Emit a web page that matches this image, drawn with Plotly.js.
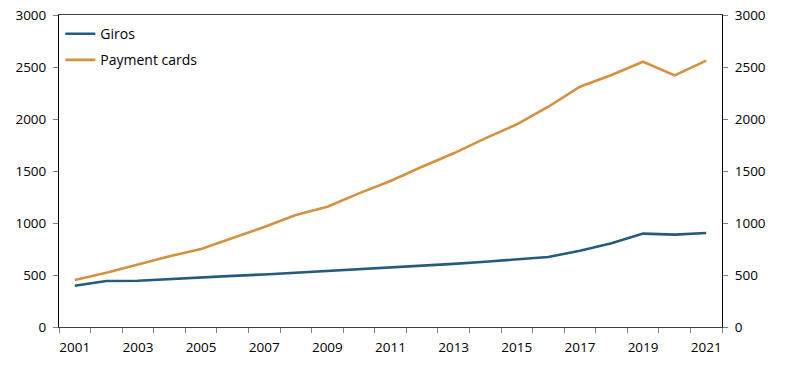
<!DOCTYPE html>
<html>
<head>
<meta charset="utf-8">
<script src="https://cdn.plot.ly/plotly-3.0.1.min.js"></script>
<style>html,body{margin:0;padding:0;background:#fff}#chart{width:797px;height:365px}</style>
</head>
<body>
<div id="chart"></div>
<script>
const years = [2001,2002,2003,2004,2005,2006,2007,2008,2009,2010,2011,2012,2013,2014,2015,2016,2017,2018,2019,2020,2021];
const giros = [397,442,445,461,481,492,505,521,538,555,572,590,607,628,651,673,734,805,898,888,904];
const paymentCards = [452,522,600,680,750,856,962,1077,1157,1285,1404,1541,1670,1814,1949,2118,2311,2423,2551,2420,2561];
const xTickLabels = ['2001','2003','2005','2007','2009','2011','2013','2015','2017','2019','2021'];
const yTicks = [0,500,1000,1500,2000,2500,3000];

const xTickVals = xTickLabels.map(Number);
const catEdges = years.map(y => y - 0.5).concat([years[years.length-1] + 0.5]);

const fontFam = '"Open Sans", "Noto Sans", sans-serif';
const traces = [
  {x: years, y: giros, name: 'Giros', type: 'scatter', mode: 'lines',
   line: {color: '#245b7f', width: 2.6}, legendgroup: 'a'},
  {x: years, y: paymentCards, name: 'Payment cards', type: 'scatter', mode: 'lines',
   xaxis: 'x', yaxis: 'y2',
   line: {color: '#d4913f', width: 2.6}, legendgroup: 'b'}
];

const layout = {
  width: 797, height: 365,
  margin: {l: 59, r: 75, t: 15, b: 38},
  paper_bgcolor: '#fff', plot_bgcolor: '#fff',
  font: {family: fontFam, size: 13.5, color: '#000'},
  showlegend: true,
  legend: {x: 0.002, y: 0.99, xanchor: 'left', yanchor: 'top', bgcolor: 'rgba(0,0,0,0)',
           font: {family: fontFam, size: 14, color: '#000'}, tracegroupgap: 5, itemwidth: 30},
  xaxis: {
    range: [catEdges[0], catEdges[catEdges.length-1]],
    tickmode: 'array', tickvals: xTickVals, ticktext: xTickLabels,
    ticks: 'outside', ticklen: 0, tickcolor: 'rgba(0,0,0,0)', ticklabelstandoff: 8,
    minor: {tickmode: 'array', tickvals: catEdges, ticks: 'outside', ticklen: 5, tickcolor: '#7f7f7f', tickwidth: 1},
    showline: true, linecolor: '#404040', linewidth: 1, mirror: true,
    showgrid: false, zeroline: false, fixedrange: true
  },
  yaxis: {
    range: [0, 3000], tickmode: 'array', tickvals: yTicks,
    ticks: 'outside', ticklen: 5, tickcolor: '#7f7f7f', ticklabelstandoff: 4,
    showline: true, linecolor: '#000', linewidth: 1,
    showgrid: false, zeroline: false
  },
  yaxis2: {
    overlaying: 'y', side: 'right', anchor: 'x', matches: 'y',
    range: [0, 3000], tickmode: 'array', tickvals: yTicks,
    ticks: 'outside', ticklen: 5, tickcolor: '#7f7f7f', ticklabelstandoff: 4,
    showline: true, linecolor: '#000', linewidth: 1,
    showgrid: false, zeroline: false
  }
};

Plotly.newPlot('chart', traces, layout, {staticPlot: true, displayModeBar: false});
</script>
</body>
</html>
